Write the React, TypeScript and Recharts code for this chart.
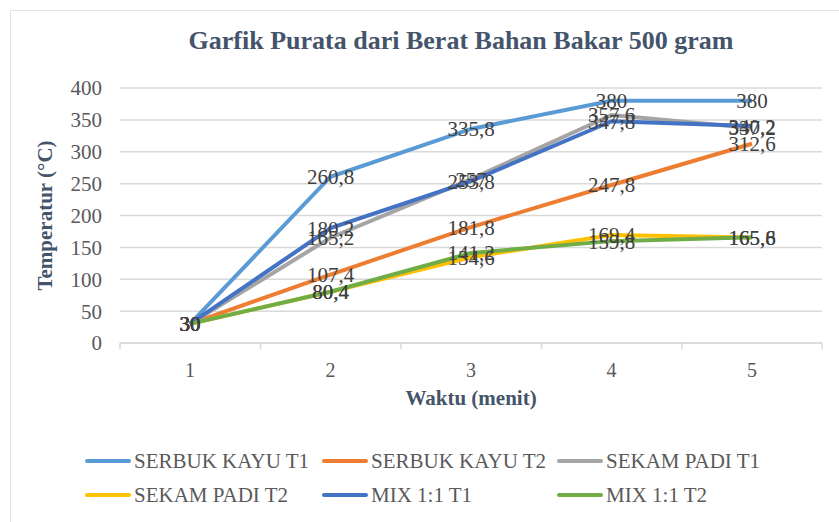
import { LineChart, Line, XAxis, YAxis, CartesianGrid, LabelList, Label } from 'recharts';

const waktu = [1, 2, 3, 4, 5];
const serbukKayuT1 = [30, 260.8, 335.8, 380, 380];
const serbukKayuT2 = [30, 107.4, 181.8, 247.8, 312.6];
const sekamPadiT1 = [30, 165.2, 257.0, 357.6, 337.2];
const sekamPadiT2 = [30, 80.4, 134.6, 169.4, 165.6];
const mixT1 = [30, 180.2, 253.8, 347.8, 340.2];
const mixT2 = [30, 80.4, 141.2, 159.8, 165.8];
const yTicks = [0, 50, 100, 150, 200, 250, 300, 350, 400];

const series = [
  { key: 's1', name: 'SERBUK KAYU T1', color: '#5b9bd5', values: serbukKayuT1 },
  { key: 's2', name: 'SERBUK KAYU T2', color: '#ed7d31', values: serbukKayuT2 },
  { key: 's3', name: 'SEKAM PADI T1', color: '#a5a5a5', values: sekamPadiT1 },
  { key: 's4', name: 'SEKAM PADI T2', color: '#ffc000', values: sekamPadiT2 },
  { key: 's5', name: 'MIX 1:1 T1', color: '#4472c4', values: mixT1 },
  { key: 's6', name: 'MIX 1:1 T2', color: '#70ad47', values: mixT2 },
];

const data = waktu.map((w, i) => {
  const row: Record<string, number> = { waktu: w };
  series.forEach(s => { row[s.key] = s.values[i]; });
  return row;
});

const font = '"Liberation Serif", "Times New Roman", serif';
const fmt = (v: any) => String(v).replace('.', ',');

const PLOT_BOTTOM = 343;
const HALF_BAND = 70;

// tick label + tanda tick di batas kategori (gaya Excel)
function WaktuTick(props: any) {
  const { x, y, payload, index } = props;
  return (
    <g>
      <line x1={x - HALF_BAND} x2={x - HALF_BAND} y1={PLOT_BOTTOM} y2={PLOT_BOTTOM + 6} stroke="#d9d9d9" strokeWidth={1.5} />
      {index === waktu.length - 1 && (
        <line x1={x + HALF_BAND} x2={x + HALF_BAND} y1={PLOT_BOTTOM} y2={PLOT_BOTTOM + 6} stroke="#d9d9d9" strokeWidth={1.5} />
      )}
      <text x={x} y={y} dy={16} textAnchor="middle" fontSize={20} fill="#595959" fontFamily={font}>{payload.value}</text>
    </g>
  );
}

const legendCols = [85, 322, 557];
const legendRows = [461, 495];

export default function App() {
  return (
    <div style={{ position: 'absolute', left: 0, top: 0, width: 839, height: 522, background: '#fff', fontFamily: font }}>
      <div style={{ position: 'absolute', left: 10, top: 10, right: 0, bottom: 0, borderLeft: '1.5px solid #dde3ea', borderTop: '1.5px solid #dde3ea' }} />
      <div style={{ position: 'absolute', top: 26, left: 110, width: 702, textAlign: 'center', fontSize: 26, fontWeight: 'bold', color: '#44546a' }}>
        Garfik Purata dari Berat Bahan Bakar 500 gram
      </div>
      <LineChart width={839} height={522} data={data} margin={{ top: 88, right: 17, left: 0, bottom: 119 }} style={{ position: 'absolute', left: 0, top: 0, fontFamily: font }}>
        <CartesianGrid vertical={false} stroke="#d9d9d9" strokeWidth={1.5} />
        <XAxis dataKey="waktu" type="category" stroke="#d9d9d9" strokeWidth={1.5} tickLine={false} tickMargin={12} height={60}
          padding={{ left: HALF_BAND, right: HALF_BAND }}
          tick={<WaktuTick />}>
          <Label value="Waktu (menit)" position="insideBottom" offset={-2} style={{ fontSize: 21, fontWeight: 'bold', fill: '#44546a', fontFamily: font }} />
        </XAxis>
        <YAxis domain={[0, 400]} ticks={yTicks} width={120} axisLine={false} tickLine={false} tickMargin={12}
          tick={{ fontSize: 21, fill: '#595959', fontFamily: font }}>
          <Label value="Temperatur (°C)" angle={-90} position="insideLeft" offset={45} style={{ fontSize: 21, fontWeight: 'bold', fill: '#44546a', textAnchor: 'middle', fontFamily: font }} />
        </YAxis>
        {series.map(s => (
          <Line key={s.key} type="linear" dataKey={s.key} name={s.name} stroke={s.color} strokeWidth={4} dot={false} isAnimationActive={false}>
            <LabelList dataKey={s.key} position="center" formatter={fmt} style={{ fontSize: 21, fill: '#404040', fontFamily: font }} />
          </Line>
        ))}
      </LineChart>
      {series.map((s, i) => {
        const x = legendCols[i % 3];
        const y = legendRows[Math.floor(i / 3)];
        return (
          <div key={s.key} style={{ position: 'absolute', left: x, top: y - 13, display: 'flex', alignItems: 'center', height: 26 }}>
            <div style={{ width: 46, height: 4, background: s.color, borderRadius: 2 }} />
            <span style={{ marginLeft: 3, fontSize: 21, color: '#595959', whiteSpace: 'nowrap' }}>{s.name}</span>
          </div>
        );
      })}
    </div>
  );
}
